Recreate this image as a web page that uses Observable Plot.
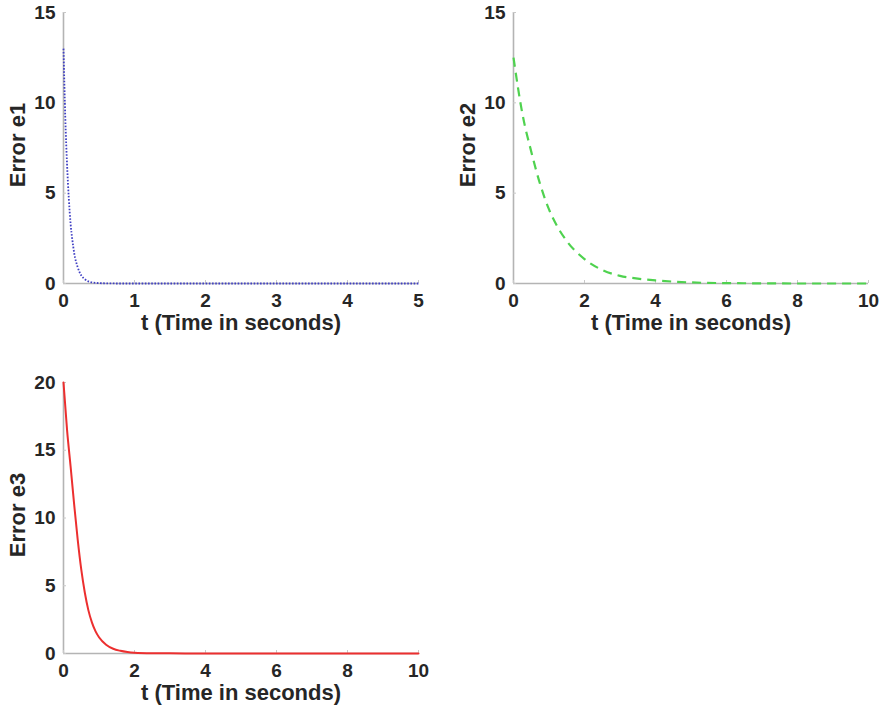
<!DOCTYPE html>
<html>
<head>
<meta charset="utf-8">
<script src="https://cdn.jsdelivr.net/npm/d3@7"></script>
<script src="https://cdn.jsdelivr.net/npm/@observablehq/plot@0.6"></script>
<style>
  html, body { margin: 0; padding: 0; background: #fff; }
  #wrap { position: relative; width: 883px; height: 712px; overflow: hidden; }
  .panel { position: absolute; }
  svg { font-family: "Liberation Sans", Arial, Helvetica, sans-serif; font-weight: bold; }
</style>
</head>
<body>
<div id="wrap"></div>
<script>
// ---- Data ----
const t1 = [0, 0.025, 0.05, 0.075, 0.1, 0.125, 0.15, 0.2, 0.25, 0.3, 0.35, 0.4, 0.5, 0.6, 0.8, 1, 1.5, 2, 2.5, 3, 3.5, 4, 4.5, 5];
const e1 = [13, 9.2, 6.6, 4.7, 3.3, 2.4, 1.7, 0.9, 0.45, 0.24, 0.12, 0.06, 0.02, 0.01, 0, 0, 0, 0, 0, 0, 0, 0, 0, 0];

const t2 = [0, 0.25, 0.5, 0.75, 1, 1.25, 1.5, 2, 2.5, 3, 3.5, 4, 5, 6, 7, 8, 9, 10];
const e2 = [12.5, 9.4, 7.3, 5.5, 4.1, 3.1, 2.35, 1.35, 0.75, 0.42, 0.27, 0.17, 0.06, 0.02, 0.01, 0, 0, 0];

const t3 = [0, 0.1, 0.2, 0.3, 0.4, 0.5, 0.6, 0.7, 0.8, 0.9, 1.0, 1.2, 1.4, 1.6, 1.8, 2, 2.5, 3, 4, 5, 6, 7, 8, 9, 10];
const e3 = [20, 16.5, 13.8, 11.0, 8.4, 6.2, 4.5, 3.2, 2.3, 1.65, 1.2, 0.65, 0.35, 0.2, 0.11, 0.06, 0.02, 0.01, 0, 0, 0, 0, 0, 0, 0];

const xTicks1 = [0, 1, 2, 3, 4, 5];
const xTicks2 = [0, 2, 4, 6, 8, 10];
const yTicks1 = [0, 5, 10, 15];
const yTicks3 = [0, 5, 10, 15, 20];

const xLabel = "t (Time in seconds)";
const yLabels = ["Error e1", "Error e2", "Error e3"];

// ---- Styles ----
const axisGray = "#b4b4b4";
const textColor = "#262626";

function panel({t, e, xDomain, yDomain, xTicks, yTicks, yLabel, stroke, dash, width, height,
                marginLeft, marginRight, marginTop, marginBottom, left, top, strokeWidth}) {
  const data = t.map((d, i) => ({t: d, e: e[i]}));
  const chart = Plot.plot({
    width, height, marginLeft, marginRight, marginTop, marginBottom,
    style: {background: "#fff", color: textColor, fontSize: "19px", overflow: "visible"},
    x: {domain: xDomain},
    y: {domain: yDomain},
    marks: [
      Plot.ruleY([yDomain[0]], {stroke: axisGray, strokeWidth: 1.6}),
      Plot.ruleX([xDomain[0]], {stroke: axisGray, strokeWidth: 1.6}),
      // small inward ticks (MATLAB style)
      Plot.axisX({ticks: xTicks, tickSize: -3, tickFormat: () => "", label: null, stroke: "#c8c8c8", strokeWidth: 1}),
      Plot.axisY({ticks: yTicks, tickSize: -3, tickFormat: () => "", label: null, stroke: "#c8c8c8", strokeWidth: 1}),
      Plot.axisX({ticks: xTicks, tickSize: 0, tickPadding: 10, tickFormat: d => String(d), label: null, fontSize: 19, fill: textColor}),
      Plot.axisY({ticks: yTicks, tickSize: 0, tickPadding: 8, tickFormat: d => String(d), label: null, fontSize: 19, fill: textColor}),
      Plot.line(data, {x: "t", y: "e", stroke, strokeWidth, strokeDasharray: dash, strokeLinecap: dash ? "butt" : "round", curve: "monotone-x"}),
      Plot.text([xLabel], {frameAnchor: "bottom", dy: 46, fontSize: 22, fontWeight: "bold", fill: textColor}),
      Plot.text([yLabel], {frameAnchor: "left", dx: -46, dy: -3, rotate: -90, textAnchor: "middle", fontSize: 22, fontWeight: "bold", fill: textColor})
    ]
  });
  const div = document.createElement("div");
  div.className = "panel";
  div.style.left = left + "px";
  div.style.top = top + "px";
  div.appendChild(chart);
  document.getElementById("wrap").appendChild(div);
}

panel({t: t1, e: e1, xDomain: [0, 5], yDomain: [0, 15], xTicks: xTicks1, yTicks: yTicks1,
  yLabel: yLabels[0], stroke: "#4040c4", dash: "1.6,1.6", strokeWidth: 1.8,
  width: 440, height: 345, marginLeft: 63, marginRight: 22, marginTop: 12, marginBottom: 62, left: 0, top: 0});

panel({t: t2, e: e2, xDomain: [0, 10], yDomain: [0, 15], xTicks: xTicks2, yTicks: yTicks1,
  yLabel: yLabels[1], stroke: "#4fd24f", dash: "9,6", strokeWidth: 2.2,
  width: 443, height: 345, marginLeft: 73, marginRight: 15, marginTop: 12, marginBottom: 62, left: 440, top: 0});

panel({t: t3, e: e3, xDomain: [0, 10], yDomain: [0, 20], xTicks: xTicks2, yTicks: yTicks3,
  yLabel: yLabels[2], stroke: "#ec2f2f", dash: null, strokeWidth: 2,
  width: 440, height: 367, marginLeft: 63, marginRight: 22, marginTop: 37, marginBottom: 59, left: 0, top: 345});
</script>
</body>
</html>
